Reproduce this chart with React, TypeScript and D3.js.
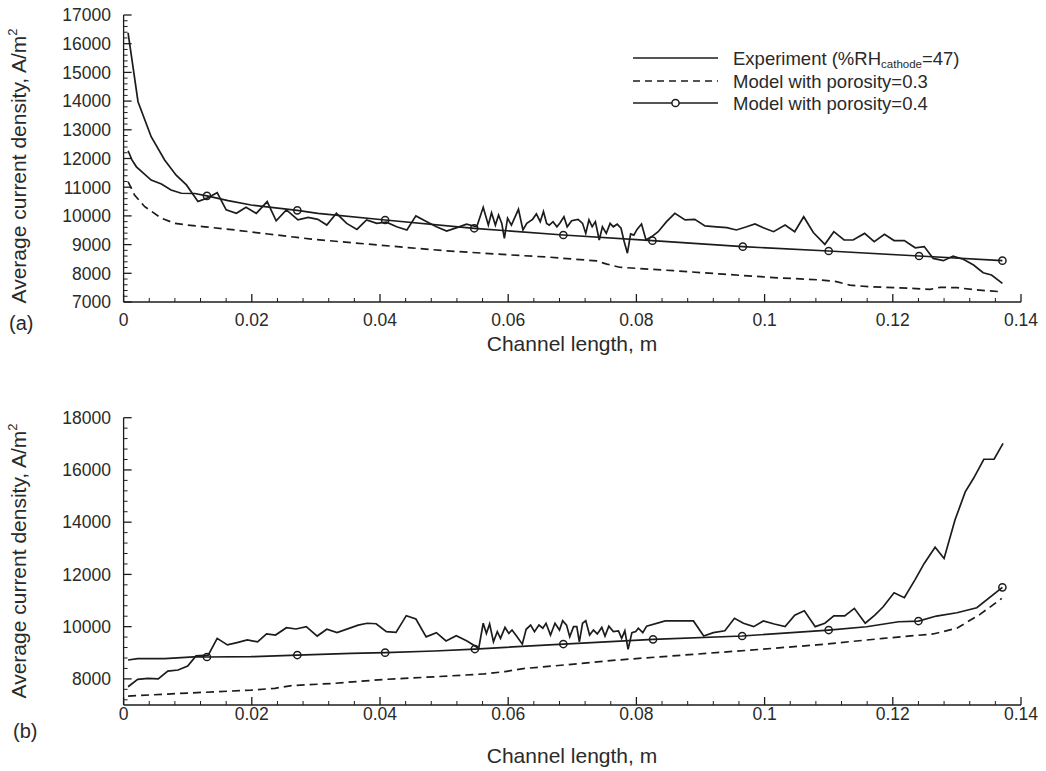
import React from 'react';
import * as d3 from 'd3';

type Pt = [number, number];

// ---------- data ----------
const xMajorTicks = [0, 0.02, 0.04, 0.06, 0.08, 0.1, 0.12, 0.14];
const topYTicks = [7000, 8000, 9000, 10000, 11000, 12000, 13000, 14000, 15000, 16000, 17000];
const bottomYTicks = [8000, 10000, 12000, 14000, 16000, 18000];

const legendLabels = ['Experiment (%RH', 'Model with porosity=0.3', 'Model with porosity=0.4'];

const topExperiment: Pt[] = [
  [0.0007, 16380], [0.00225, 13980], [0.0043, 12760], [0.0064, 11950], [0.0082, 11420], [0.0098, 11080],
  [0.0116, 10500], [0.0129, 10610], [0.0146, 10810], [0.016, 10210], [0.0176, 10090], [0.0191, 10300],
  [0.0207, 10090], [0.0224, 10500], [0.0238, 9830], [0.0254, 10210], [0.0272, 9860], [0.0288, 9950],
  [0.0303, 9880], [0.0317, 9680], [0.0332, 10090], [0.0348, 9740], [0.0364, 9530], [0.0379, 9860],
  [0.0395, 9740], [0.041, 9780], [0.0426, 9620], [0.0442, 9510], [0.0456, 10000], [0.0473, 9800],
  [0.0488, 9620], [0.0504, 9470], [0.052, 9590], [0.0535, 9710], [0.0551, 9620], [0.0561, 10300],
  [0.0569, 9680], [0.0574, 10110], [0.058, 9680], [0.0585, 10030], [0.059, 9740], [0.0594, 9220],
  [0.0599, 9920], [0.0605, 9680], [0.0616, 10230], [0.0623, 9510], [0.0629, 9740], [0.0638, 9880],
  [0.0644, 10070], [0.065, 9800], [0.0655, 10150], [0.066, 9740], [0.0664, 9680], [0.067, 9800],
  [0.0676, 9620], [0.0681, 9760], [0.0687, 9970], [0.0692, 9620], [0.0699, 9830], [0.0709, 9880],
  [0.0716, 9740], [0.0721, 9390], [0.0726, 9860], [0.0731, 9620], [0.0736, 9800], [0.0742, 9160],
  [0.0747, 9620], [0.0753, 9390], [0.0759, 9740], [0.0764, 9620], [0.077, 9710], [0.0776, 9570],
  [0.0781, 9100], [0.0786, 8700], [0.0791, 9370], [0.0796, 9330], [0.0801, 9530], [0.0808, 9720],
  [0.0815, 9160], [0.0824, 9280], [0.0834, 9450], [0.0847, 9800], [0.086, 10090], [0.0876, 9860],
  [0.0891, 9880], [0.0907, 9650], [0.0925, 9620], [0.0941, 9590], [0.0956, 9510], [0.0972, 9620],
  [0.0985, 9720], [0.0998, 9590], [0.1014, 9450], [0.1032, 9680], [0.1047, 9450], [0.1061, 9970],
  [0.1076, 9420], [0.1094, 9010], [0.1108, 9450], [0.1124, 9160], [0.1138, 9160], [0.1156, 9390],
  [0.1171, 9100], [0.1187, 9360], [0.1202, 9140], [0.1218, 9140], [0.1235, 8890], [0.1249, 8930],
  [0.1263, 8520], [0.1279, 8440], [0.1294, 8600], [0.131, 8490], [0.1326, 8290], [0.1341, 8020],
  [0.1354, 7940], [0.1371, 7650],
];

const topModel03: Pt[] = [
  [0.0007, 11190], [0.0017, 10730], [0.0033, 10320], [0.0059, 9920], [0.008, 9740], [0.01, 9680],
  [0.0127, 9620], [0.0173, 9510], [0.0225, 9370], [0.0293, 9190], [0.0395, 8990], [0.0499, 8790],
  [0.0603, 8640], [0.0665, 8560], [0.0738, 8430], [0.0754, 8320], [0.0774, 8210], [0.0858, 8090],
  [0.0936, 7970], [0.1014, 7850], [0.1086, 7770], [0.1112, 7710], [0.1133, 7590], [0.1164, 7530],
  [0.1227, 7480], [0.1258, 7440], [0.1274, 7510], [0.13, 7500], [0.1331, 7420], [0.1367, 7360],
];

const topModel04: Pt[] = [
  [0.0007, 12270], [0.0013, 11950], [0.002, 11710], [0.0043, 11250], [0.0059, 11110], [0.0074, 10900],
  [0.009, 10790], [0.0111, 10780], [0.013, 10700], [0.0163, 10530], [0.0199, 10380], [0.0271, 10195],
  [0.0303, 10090], [0.0408, 9857], [0.0547, 9568], [0.0686, 9334], [0.0825, 9136], [0.0966, 8927],
  [0.11, 8777], [0.1241, 8603], [0.1371, 8439],
];

const topMarkers: Pt[] = [
  [0.013, 10700], [0.0271, 10195], [0.0408, 9857], [0.0547, 9568], [0.0686, 9334],
  [0.0825, 9136], [0.0966, 8927], [0.11, 8777], [0.1241, 8603], [0.1371, 8439],
];

const bottomExperiment: Pt[] = [
  [0.0007, 7700], [0.0022, 7980], [0.0038, 8020], [0.0054, 8000], [0.0069, 8300], [0.0085, 8340],
  [0.01, 8490], [0.0113, 8880], [0.0132, 8910], [0.0146, 9550], [0.0162, 9300], [0.0177, 9390],
  [0.0193, 9490], [0.0209, 9420], [0.0223, 9720], [0.0237, 9680], [0.0254, 9960], [0.0269, 9910],
  [0.0285, 10000], [0.0302, 9640], [0.0317, 9900], [0.0333, 9770], [0.0366, 10060], [0.038, 10130],
  [0.0394, 10110], [0.041, 9810], [0.0425, 9780], [0.0441, 10420], [0.0456, 10290], [0.0472, 9610],
  [0.0488, 9770], [0.0503, 9450], [0.0519, 9650], [0.0535, 9460], [0.0554, 9170], [0.0561, 10130],
  [0.0566, 9740], [0.0571, 10100], [0.0577, 9420], [0.0583, 9810], [0.0588, 9550], [0.0595, 9970],
  [0.0601, 9740], [0.0606, 9870], [0.0613, 9640], [0.0622, 9330], [0.0628, 9900], [0.0635, 10060],
  [0.0641, 9810], [0.0648, 10060], [0.0654, 9940], [0.0659, 10130], [0.0666, 9680], [0.0673, 10130],
  [0.068, 9870], [0.0685, 10230], [0.0691, 10060], [0.0696, 9610], [0.0702, 10000], [0.0707, 10000],
  [0.0711, 9420], [0.0716, 10130], [0.0721, 10230], [0.0727, 9680], [0.0733, 9870], [0.0739, 9720],
  [0.0746, 9970], [0.0751, 9640], [0.0757, 10020], [0.0764, 9810], [0.0772, 9840], [0.0777, 9550],
  [0.0782, 9840], [0.0787, 9130], [0.0793, 9770], [0.0799, 9810], [0.0803, 9940], [0.081, 9770],
  [0.0816, 10020], [0.0845, 10220], [0.0889, 10220], [0.0905, 9640], [0.092, 9770], [0.0938, 9840],
  [0.0953, 10320], [0.0967, 10130], [0.0983, 10000], [0.0998, 10220], [0.1015, 10100], [0.1032, 10000],
  [0.1047, 10440], [0.1062, 10610], [0.1079, 10000], [0.1094, 10130], [0.1108, 10410], [0.1125, 10410],
  [0.114, 10700], [0.1157, 10130], [0.1172, 10440], [0.1185, 10760], [0.1202, 11300], [0.1218, 11110],
  [0.1235, 11810], [0.1249, 12420], [0.1266, 13040], [0.128, 12610], [0.1297, 14080], [0.1313, 15160],
  [0.1326, 15680], [0.1342, 16410], [0.1358, 16410], [0.1372, 17020],
];

const bottomModel03: Pt[] = [
  [0.0007, 7340], [0.0069, 7420], [0.0147, 7510], [0.0199, 7570], [0.0236, 7640], [0.0262, 7740],
  [0.0329, 7830], [0.0407, 7980], [0.0485, 8080], [0.0563, 8190], [0.0595, 8280], [0.0626, 8400],
  [0.0673, 8500], [0.0769, 8720], [0.0873, 8910], [0.0977, 9100], [0.1081, 9300], [0.1185, 9550],
  [0.1263, 9720], [0.13, 9940], [0.1336, 10470], [0.137, 11080],
];

const bottomModel04: Pt[] = [
  [0.0007, 8722], [0.0022, 8773], [0.0064, 8773], [0.0116, 8849], [0.013, 8837], [0.0199, 8849],
  [0.0271, 8913], [0.0355, 8978], [0.0408, 9003], [0.0485, 9067], [0.0548, 9143], [0.0686, 9334],
  [0.0826, 9514], [0.0965, 9641], [0.11, 9870], [0.1159, 9997], [0.1209, 10188], [0.124, 10215],
  [0.1268, 10406], [0.13, 10532], [0.1331, 10724], [0.1371, 11504],
];

const bottomMarkers: Pt[] = [
  [0.013, 8837], [0.0271, 8913], [0.0408, 9003], [0.0548, 9143], [0.0686, 9334],
  [0.0826, 9514], [0.0965, 9641], [0.11, 9870], [0.124, 10215], [0.1371, 11504],
];

// ---------- styling ----------
const FONT = "'Liberation Sans', Arial, Helvetica, sans-serif";
const INK = '#1c1c1c';
const TXT = '#2a2a2a';
const LW = 1.7;
const DASH = '8,5';

const xScale = d3.scaleLinear().domain([0, 0.14]).range([123.6, 1021]);
const fmtX = (v: number) => String(+v.toFixed(2));

type PanelProps = {
  yDomain: [number, number];
  yRange: [number, number];
  yLabels: number[];
  yMinor: number[];
  experiment: Pt[];
  model03: Pt[];
  model04: Pt[];
  markers: Pt[];
  titleCenterY: number;
  xLabelBaseline: number;
  xTitleBaseline: number;
  tag: string;
  tagX: number;
  tagY: number;
};

function Panel(p: PanelProps) {
  const y = d3.scaleLinear().domain(p.yDomain).range(p.yRange);
  const line = d3.line<Pt>().x(d => xScale(d[0])).y(d => y(d[1]));
  const x0 = xScale(0);
  const x1 = xScale(0.14);
  const yb = y(p.yDomain[0]);
  const yt = y(p.yDomain[1]);
  const xMinor = d3.range(0, 36).map(i => i * 0.004);
  return (
    <g>
      <line x1={x0} x2={x1} y1={yb} y2={yb} stroke={INK} strokeWidth={1.3} />
      <line x1={x0} x2={x0} y1={yb} y2={yt} stroke={INK} strokeWidth={1.3} />
      {xMinor.map((v, i) => {
        const major = i % 5 === 0;
        return (
          <line key={'xm' + i} x1={xScale(v)} x2={xScale(v)} y1={yb} y2={yb - (major ? 8 : 4)}
            stroke={INK} strokeWidth={major ? 1.3 : 1} />
        );
      })}
      {p.yMinor.map((v, i) => {
        const major = p.yLabels.includes(v);
        return (
          <line key={'ym' + i} x1={x0} x2={x0 + (major ? 8 : 4)} y1={y(v)} y2={y(v)}
            stroke={INK} strokeWidth={major ? 1.3 : 1} />
        );
      })}
      {p.yLabels.map(v => (
        <text key={'yl' + v} x={111} y={y(v)} dy="0.36em" textAnchor="end" fontSize={17.5}
          fontFamily={FONT} fill={TXT}>{v}</text>
      ))}
      {xMajorTicks.map(v => (
        <text key={'xl' + v} x={xScale(v)} y={p.xLabelBaseline} textAnchor="middle" fontSize={17.5}
          fontFamily={FONT} fill={TXT}>{fmtX(v)}</text>
      ))}
      <text x={572} y={p.xTitleBaseline} textAnchor="middle" fontSize={21} fontFamily={FONT} fill={TXT}>
        Channel length, m
      </text>
      <text transform={`translate(26,${p.titleCenterY}) rotate(-90)`} textAnchor="middle" fontSize={21}
        fontFamily={FONT} fill={TXT}>
        Average current density, A/m<tspan fontSize={13} dy={-9}>2</tspan>
      </text>
      <text x={p.tagX} y={p.tagY} fontSize={20} fontFamily={FONT} fill={TXT}>{p.tag}</text>

      <path d={line(p.model03) || ''} fill="none" stroke={INK} strokeWidth={LW} strokeDasharray={DASH} />
      <path d={line(p.model04) || ''} fill="none" stroke={INK} strokeWidth={LW} />
      <path d={line(p.experiment) || ''} fill="none" stroke={INK} strokeWidth={LW} strokeLinejoin="miter" />
      {p.markers.map((d, i) => (
        <circle key={'mk' + i} cx={xScale(d[0])} cy={y(d[1])} r={3.6} fill="none" stroke={INK} strokeWidth={1.5} />
      ))}
    </g>
  );
}

function Legend() {
  const lx0 = 633;
  const lx1 = 718;
  const rows = [58, 81, 103];
  return (
    <g>
      <line x1={lx0} x2={lx1} y1={rows[0]} y2={rows[0]} stroke={INK} strokeWidth={LW} />
      <line x1={lx0} x2={lx1} y1={rows[1]} y2={rows[1]} stroke={INK} strokeWidth={LW} strokeDasharray="7,5" />
      <line x1={lx0} x2={lx1} y1={rows[2]} y2={rows[2]} stroke={INK} strokeWidth={LW} />
      <circle cx={(lx0 + lx1) / 2} cy={rows[2]} r={3.6} fill="white" stroke={INK} strokeWidth={1.5} />
      <text x={733} y={rows[0] + 6.5} fontSize={18.5} fontFamily={FONT} fill={TXT}>
        {legendLabels[0]}
        <tspan fontSize={11.5} dy={3.5}>cathode</tspan>
        <tspan dy={-3.5}>=47)</tspan>
      </text>
      <text x={733} y={rows[1] + 6.5} fontSize={18.5} fontFamily={FONT} fill={TXT}>{legendLabels[1]}</text>
      <text x={733} y={rows[2] + 6.5} fontSize={18.5} fontFamily={FONT} fill={TXT}>{legendLabels[2]}</text>
    </g>
  );
}

export default function App() {
  const topMinor = d3.range(0, 51).map(i => 7000 + i * 200);
  const bottomMinor = d3.range(0, 28).map(i => 7200 + i * 400);
  return (
    <svg width={1046} height={771} viewBox="0 0 1046 771"
      style={{ position: 'absolute', left: 0, top: 0, background: 'white' }}>
      <rect x={0} y={0} width={1046} height={771} fill="white" />
      <Panel
        yDomain={[7000, 17000]}
        yRange={[302, 15]}
        yLabels={topYTicks}
        yMinor={topMinor}
        experiment={topExperiment}
        model03={topModel03}
        model04={topModel04}
        markers={topMarkers}
        titleCenterY={166}
        xLabelBaseline={326}
        xTitleBaseline={351}
        tag="(a)"
        tagX={9}
        tagY={330}
      />
      <Legend />
      <Panel
        yDomain={[7000, 18000]}
        yRange={[705, 417.7]}
        yLabels={bottomYTicks}
        yMinor={bottomMinor}
        experiment={bottomExperiment}
        model03={bottomModel03}
        model04={bottomModel04}
        markers={bottomMarkers}
        titleCenterY={561}
        xLabelBaseline={720}
        xTitleBaseline={763}
        tag="(b)"
        tagX={13}
        tagY={738}
      />
    </svg>
  );
}
